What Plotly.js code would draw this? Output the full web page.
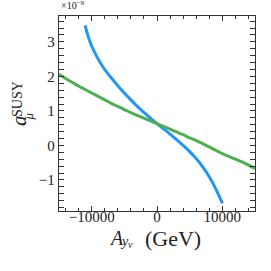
<!DOCTYPE html>
<html>
<head>
<meta charset="utf-8">
<script src="https://cdn.plot.ly/plotly-3.0.1.min.js"></script>
<style>html,body{margin:0;padding:0;background:#fff;}#chart{width:271px;height:271px;}</style>
</head>
<body>
<div id="chart"></div>
<script>
var blueX = [-11000, -10500, -10000, -9000, -8000, -7000, -6000, -5000, -4000, -3000, -2000, -1000, 0, 1000, 2000, 3000, 4000, 5000, 6000, 7000, 8000, 9000, 10000];
var blueY = [3.48, 3.14, 2.88, 2.50, 2.20, 1.96, 1.73, 1.52, 1.32, 1.13, 0.96, 0.79, 0.63, 0.48, 0.33, 0.17, 0.00, -0.18, -0.38, -0.62, -0.91, -1.26, -1.68];
var greenX = [-15000, -14000, -13000, -12000, -11000, -10000, -9000, -8000, -7000, -6000, -5000, -4000, -3000, -2000, -1000, 0, 1000, 2000, 3000, 4000, 5000, 6000, 7000, 8000, 9000, 10000, 11000, 12000, 13000, 14000, 15000];
var greenY = [2.06, 1.94, 1.83, 1.72, 1.62, 1.52, 1.42, 1.32, 1.22, 1.13, 1.04, 0.95, 0.87, 0.79, 0.71, 0.63, 0.55, 0.47, 0.39, 0.31, 0.22, 0.14, 0.05, -0.04, -0.14, -0.24, -0.32, -0.40, -0.48, -0.57, -0.67];
var xTickVals = [-10000, 0, 10000];
var xTickText = ['−10000', '0', '10000'];
var xRange = [-15000, 15000];
var yRange = [-1.9, 3.75];

var serif = 'Liberation Serif, Times New Roman, serif';
var tickFont = {family: serif, size: 15, color: '#222'};
var axisCommon = {
  showline: true, linecolor: '#333', linewidth: 1.3, mirror: 'allticks',
  ticks: 'inside', ticklen: 5, tickwidth: 1, tickcolor: '#333',
  showgrid: false, zeroline: false,
  tickfont: tickFont
};
var xaxis = Object.assign({}, axisCommon, {
  range: xRange, tickmode: 'array', tickvals: xTickVals, ticktext: xTickText,
  showticklabels: false,
  minor: {ticks: 'inside', ticklen: 3, tickwidth: 1, tickcolor: '#333', dtick: 2000, tick0: 0, showgrid: false}
});
var xaxis2 = {
  overlaying: 'x', anchor: 'free', position: 5 / 195, side: 'bottom',
  range: xRange, tickmode: 'array', tickvals: xTickVals, ticktext: xTickText,
  showline: false, ticks: '', showgrid: false, zeroline: false, tickfont: tickFont
};
var yaxis = Object.assign({}, axisCommon, {
  range: yRange, tick0: 0, dtick: 1,
  minor: {ticks: 'inside', ticklen: 3, tickwidth: 1, tickcolor: '#333', dtick: 0.2, tick0: 0, showgrid: false}
});

var traces = [
  {x: blueX, y: blueY, mode: 'lines', line: {color: '#2196f3', width: 3, shape: 'spline'}, hoverinfo: 'skip'},
  {x: greenX, y: greenY, mode: 'lines', line: {color: '#4caf50', width: 3, shape: 'spline'}, hoverinfo: 'skip'},
  {x: greenX, y: greenY, xaxis: 'x2', yaxis: 'y', mode: 'lines', line: {color: 'rgba(0,0,0,0)', width: 0}, hoverinfo: 'skip'}
];

function ann(text, x, y, size, angle) {
  return {text: text, xref: 'paper', yref: 'paper', x: x, y: y, showarrow: false,
    xanchor: 'center', yanchor: 'middle', textangle: angle || 0,
    font: {family: serif, size: size, color: '#222'}};
}
var annotations = [
  ann('<i>A</i>', (116 - 59) / 196, -0.138, 20),
  ann('<i>y</i>', (124.5 - 59) / 196, -0.158, 14),
  ann('<i>ν</i>', (130.5 - 59) / 196, -0.172, 10),
  ann('(GeV)', (173 - 59) / 196, -0.14, 22),
  ann('<i>a</i>', (19 - 59) / 196, (211 - 121) / 195, 21, -90),
  ann('SUSY', (17 - 59) / 196, (211 - 99) / 195, 14, -90),
  ann('<i>μ</i>', (28.5 - 59) / 196, (211 - 117) / 195, 13, -90),
  {text: '×10<sup>−9</sup>', xref: 'paper', yref: 'paper', x: 0, y: (211 - 5) / 195,
   xanchor: 'left', yanchor: 'middle', showarrow: false,
   font: {family: serif, size: 10, color: '#222'}}
];

var layout = {
  width: 271, height: 271,
  margin: {l: 59, r: 16, t: 16, b: 60, pad: 0},
  paper_bgcolor: '#fff', plot_bgcolor: '#fff',
  showlegend: false,
  xaxis: xaxis, xaxis2: xaxis2, yaxis: yaxis,
  annotations: annotations
};
Plotly.newPlot('chart', traces, layout, {staticPlot: true, displayModeBar: false});
</script>
</body>
</html>
